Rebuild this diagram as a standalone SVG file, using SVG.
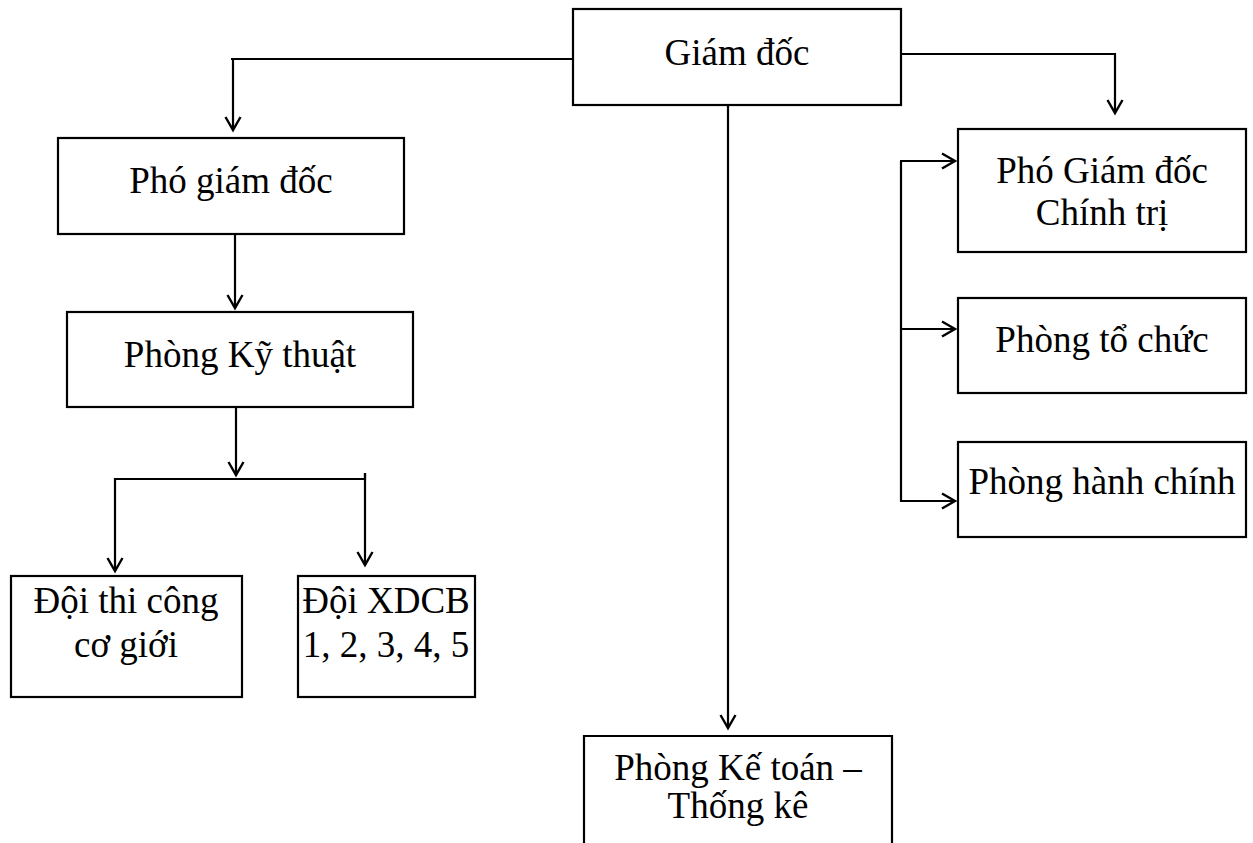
<svg xmlns="http://www.w3.org/2000/svg" width="1253" height="843" viewBox="0 0 1253 843">
<style>
.box{fill:#fff;stroke:#000;stroke-width:2.2}
.lbl{font-family:"Liberation Serif","Times New Roman",serif;font-size:37px;fill:#000;text-anchor:middle}
.ln{fill:none;stroke:#000;stroke-width:2.2}
</style>
<defs>
<marker id="arr" markerUnits="userSpaceOnUse" markerWidth="18" markerHeight="18" viewBox="-15 -9 18 18" refX="0" refY="0" orient="auto">
<path d="M-13,-7.5 L0,0 L-13,7.5" fill="none" stroke="#000" stroke-width="2.4"/>
</marker>
</defs>
<rect width="1253" height="843" fill="#fff"/>
<g id="connectors">
<path class="ln" d="M573,59 H231 M233,59 V130" marker-end="url(#arr)"/>
<path class="ln" d="M235,234 V308" marker-end="url(#arr)"/>
<path class="ln" d="M236,402 V475" marker-end="url(#arr)"/>
<path class="ln" d="M365,473 V479 H115 V571" marker-end="url(#arr)"/>
<path class="ln" d="M365,473 V565" marker-end="url(#arr)"/>
<path class="ln" d="M728,97 V728" marker-end="url(#arr)"/>
<path class="ln" d="M901,54 H1115 V113" marker-end="url(#arr)"/>
<path class="ln" d="M901,161 V501"/>
<path class="ln" d="M900,161 H955" marker-end="url(#arr)"/>
<path class="ln" d="M900,329 H955" marker-end="url(#arr)"/>
<path class="ln" d="M900,501 H955" marker-end="url(#arr)"/>
</g>
<g id="giam-doc"><rect class="box" x="573" y="9" width="328" height="96"/><text class="lbl" x="737" y="65">Giám đốc</text></g>
<g id="pho-giam-doc"><rect class="box" x="58" y="138" width="346" height="96"/><text class="lbl" x="231" y="193">Phó giám đốc</text></g>
<g id="phong-ky-thuat"><rect class="box" x="67" y="312" width="346" height="95"/><text class="lbl" x="240" y="367">Phòng Kỹ thuật</text></g>
<g id="doi-thi-cong"><rect class="box" x="11" y="576" width="231" height="121"/><text class="lbl" x="126" y="613">Đội thi công</text><text class="lbl" x="126" y="657">cơ giới</text></g>
<g id="doi-xdcb"><rect class="box" x="298" y="576" width="177" height="121"/><text class="lbl" x="386" y="613">Đội XDCB</text><text class="lbl" x="386" y="657">1, 2, 3, 4, 5</text></g>
<g id="pho-giam-doc-chinh-tri"><rect class="box" x="958" y="129" width="288" height="123"/><text class="lbl" x="1102" y="183">Phó Giám đốc</text><text class="lbl" x="1102" y="225">Chính trị</text></g>
<g id="phong-to-chuc"><rect class="box" x="958" y="298" width="288" height="95"/><text class="lbl" x="1102" y="352">Phòng tổ chức</text></g>
<g id="phong-hanh-chinh"><rect class="box" x="958" y="442" width="288" height="95"/><text class="lbl" x="1102" y="494">Phòng hành chính</text></g>
<g id="phong-ke-toan"><path class="ln" d="M584,845 V736 H892 V845"/><text class="lbl" x="738" y="780">Phòng Kế toán –</text><text class="lbl" x="738" y="818">Thống kê</text></g>
</svg>
